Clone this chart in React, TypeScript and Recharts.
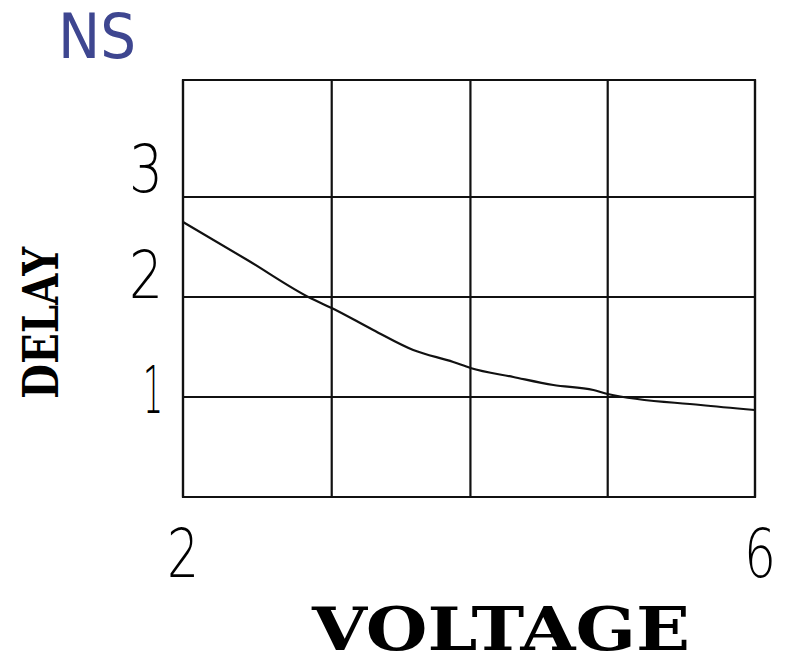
import { LineChart, Line, XAxis, YAxis, CartesianGrid, ReferenceArea } from "recharts";

// readings (volts -> ns)
const voltage = [2.0, 2.45, 2.89, 3.04, 3.33, 3.61, 3.89, 4.01, 4.31, 4.59, 4.87, 4.97, 5.62, 6.0];
const delay = [2.75, 2.37, 1.99, 1.89, 1.67, 1.47, 1.35, 1.29, 1.2, 1.12, 1.07, 1.03, 0.92, 0.87];

const xTicks = [2, 3.04, 4.01, 4.97, 6];
const xLabels = [2, 6];
const yTicks = [1, 2, 3];
const yMax = 4.17;

const data = voltage.map((v, i) => ({ v, d: delay[i] }));

const ink = "#111";
const thinFont = "'DejaVu Sans', sans-serif";
const slabFont = "'DejaVu Serif', serif";

// hand lettering does not sit evenly on the gridlines
const yShift: Record<number, number> = { 1: 16, 2: 1, 3: -5 };
const yWidth: Record<number, number> = { 1: 20, 2: 34, 3: 34 };

const YTick = ({ x, y, payload }: any) => (
  <text
    x={x}
    y={y + (yShift[payload.value] ?? 0)}
    textAnchor="end"
    fontFamily={thinFont}
    fontWeight={300}
    fontSize={66}
    textLength={yWidth[payload.value]}
    lengthAdjust="spacingAndGlyphs"
    fill="#000"
  >
    {payload.value}
  </text>
);

const XTick = ({ x, y, payload }: any) => {
  if (!xLabels.includes(payload.value)) return null;
  const dx = payload.value === 6 ? 5 : 0;
  return (
    <text
      x={x + dx}
      y={y + 72}
      textAnchor="middle"
      fontFamily={thinFont}
      fontWeight={300}
      fontSize={68}
      textLength={32}
      lengthAdjust="spacingAndGlyphs"
      fill="#000"
    >
      {payload.value}
    </text>
  );
};

const VoltageLabel = ({ viewBox }: any) => (
  <text
    x={viewBox.x + viewBox.width / 2 + 32}
    y={viewBox.y + 153}
    textAnchor="middle"
    fontFamily={slabFont}
    fontWeight="bold"
    fontSize={59}
    textLength={378}
    lengthAdjust="spacingAndGlyphs"
    fill="#000"
  >
    VOLTAGE
  </text>
);

const DelayLabel = () => (
  <text
    x={58}
    y={323}
    transform="rotate(-90 58 323)"
    textAnchor="middle"
    fontFamily={slabFont}
    fontWeight="bold"
    fontSize={49}
    textLength={152}
    lengthAdjust="spacingAndGlyphs"
    fill="#000"
  >
    DELAY
  </text>
);

export default function App() {
  return (
    <div style={{ position: "absolute", left: 0, top: 0, width: 794, height: 671, background: "#fff" }}>
      <svg width={200} height={80} style={{ position: "absolute", left: 0, top: 0 }}>
        <text
          x={58}
          y={58}
          fontFamily={thinFont}
          fontStretch="condensed"
          fontSize={62}
          textLength={78}
          lengthAdjust="spacingAndGlyphs"
          fill="#3e4690"
        >
          NS
        </text>
      </svg>
      <LineChart
        width={794}
        height={671}
        data={data}
        margin={{ top: 80, right: 39, left: 123, bottom: 114 }}
        style={{ position: "absolute", left: 0, top: 0 }}
      >
        <CartesianGrid stroke={ink} strokeWidth={2.2} />
        <XAxis
          dataKey="v"
          type="number"
          domain={[2, 6]}
          ticks={xTicks}
          height={60}
          axisLine={false}
          tickLine={false}
          tick={<XTick />}
          interval={0}
          label={<VoltageLabel />}
        />
        <YAxis
          type="number"
          domain={[0, yMax]}
          ticks={yTicks}
          width={60}
          axisLine={false}
          tickLine={false}
          tickSize={0}
          tickMargin={20}
          tick={<YTick />}
          interval={0}
          label={<DelayLabel />}
        />
        <ReferenceArea
          x1={2}
          x2={6}
          y1={0}
          y2={yMax}
          fill="none"
          stroke={ink}
          strokeWidth={2.2}
          fillOpacity={0}
          ifOverflow="visible"
        />
        <Line
          type="monotone"
          dataKey="d"
          stroke={ink}
          strokeWidth={2.2}
          dot={false}
          isAnimationActive={false}
        />
      </LineChart>
    </div>
  );
}
